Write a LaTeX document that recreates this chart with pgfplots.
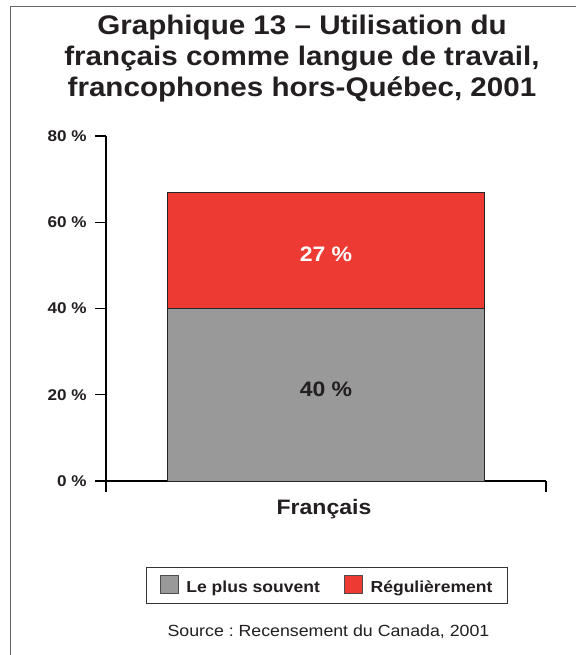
\documentclass[border=0pt]{standalone}
\usepackage{fontspec}
\setmainfont{Liberation Sans}[FakeStretch=1.1]
\usepackage{pgfplots}
\pgfplotsset{compat=1.18}
\definecolor{bargray}{RGB}{153,153,153}
\definecolor{barred}{RGB}{237,58,50}
\definecolor{txt}{RGB}{35,31,32}
\frenchspacing
\begin{document}
\begin{tikzpicture}[x=1bp,y=1bp]
\useasboundingbox (0,0) rectangle (576,655);
\fill[white] (0,0) rectangle (576,655);
\draw[black!60, line width=1bp] (10,0) -- (10,648.5) -- (576,648.5);
% title
\node[anchor=base, font=\fontsize{27}{30}\selectfont\bfseries, text=txt, inner sep=0] at (302,620) {Graphique 13 – Utilisation du};
\node[anchor=base, font=\fontsize{27}{30}\selectfont\bfseries, text=txt, inner sep=0] at (302,589.3) {français comme langue de travail,};
\node[anchor=base, font=\fontsize{27}{30}\selectfont\bfseries, text=txt, inner sep=0] at (302,558.3) {francophones hors-Québec, 2001};
\begin{axis}[
  at={(106bp,174bp)}, anchor=south west,
  scale only axis, width=440bp, height=345bp,
  xmin=0, xmax=1, ymin=0, ymax=80,
  axis x line*=bottom, axis y line*=left,
  xtick={0,1}, xticklabels={},
  ytick={0,20,40,60,80},
  /pgf/number format/assume math mode=true,
  yticklabel={\pgfmathprintnumber{\tick}~\%},
  yticklabel style={font=\fontsize{15.6}{18}\selectfont\bfseries, text=txt, xshift=-5bp},
  tick align=outside, major tick length=11bp,
  tick style={black, line width=1.2bp},
  axis line style={black, line width=1.2bp},
  ybar stacked, bar width=317bp,
  legend columns=2,
  legend style={at={(axis description cs:0.5023,-0.3029)}, anchor=center,
    draw=black!80, line width=0.8bp, inner xsep=13bp, inner ysep=7bp,
    font=\fontsize{16}{19}\selectfont\bfseries, text=txt,
    /tikz/every odd column/.append style={column sep=6bp},
    /tikz/every even column/.append style={column sep=22bp}},
  legend image code/.code={\draw[#1, line width=0.8bp, draw=black!70] (0bp,-7bp) rectangle (18bp,11bp);},
  clip=false,
]
\addplot[fill=bargray, draw=black!85, line width=0.6bp] coordinates {(0.5,40)};
\addlegendentry{\vphantom{ÉRégp}Le plus souvent}
\addplot[fill=barred, draw=black!85, line width=0.6bp] coordinates {(0.5,27)};
\addlegendentry{\vphantom{ÉRégp}Régulièrement}
\coordinate (lab40) at (axis cs:0.5,19.55);
\coordinate (lab27) at (axis cs:0.5,50.85);
\end{axis}
\node[anchor=base, font=\fontsize{21}{24}\selectfont\bfseries, text=txt, inner sep=0] at (lab40) {40 \%};
\node[anchor=base, font=\fontsize{21}{24}\selectfont\bfseries, text=white, inner sep=0] at (lab27) {27 \%};
\node[anchor=base, font=\fontsize{21}{24}\selectfont\bfseries, text=txt, inner sep=0] at (324,140) {Français};
\node[anchor=base, font=\fontsize{16.2}{19}\selectfont, text=txt, inner sep=0] at (328.5,18.5) {Source : Recensement du Canada, 2001};
\end{tikzpicture}
\end{document}
